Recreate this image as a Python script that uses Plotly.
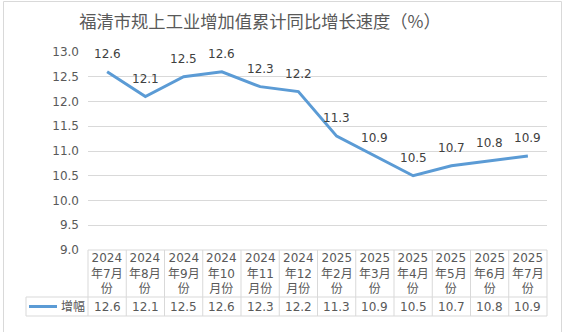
import plotly.graph_objects as go

# ---- data ----
categories = ["2024年7月份", "2024年8月份", "2024年9月份", "2024年10月份", "2024年11月份",
              "2024年12月份", "2025年2月份", "2025年3月份", "2025年4月份", "2025年5月份",
              "2025年6月份", "2025年7月份"]
tick_labels = ["2024<br>年7月<br>份", "2024<br>年8月<br>份", "2024<br>年9月<br>份",
               "2024<br>年10<br>月份", "2024<br>年11<br>月份", "2024<br>年12<br>月份",
               "2025<br>年2月<br>份", "2025<br>年3月<br>份", "2025<br>年4月<br>份",
               "2025<br>年5月<br>份", "2025<br>年6月<br>份", "2025<br>年7月<br>份"]
values = [12.6, 12.1, 12.5, 12.6, 12.3, 12.2, 11.3, 10.9, 10.5, 10.7, 10.8, 10.9]
series_name = "增幅"
y_ticks = [9.0, 9.5, 10.0, 10.5, 11.0, 11.5, 12.0, 12.5, 13.0]
title_text = "福清市规上工业增加值累计同比增长速度（%）"

# ---- layout constants (pixels) ----
W, H = 562, 332
PL, PR, PT, PB = 88, 547, 52, 250
LINE_COLOR = "#5B9BD5"
GRID = "#D9D9D9"
TXT = "#595959"
FONT = "DejaVu Sans, Noto Sans CJK SC, sans-serif"


def px2x(px):
    return (px - PL) / (PR - PL)


def py2y(py):
    return (PB - py) / (PB - PT)


n = len(categories)
xs = list(range(n))

fig = go.Figure()
fig.add_trace(go.Scatter(
    x=xs, y=values, mode="lines", name=series_name,
    line=dict(color=LINE_COLOR, width=3), hoverinfo="skip",
    customdata=categories,
))

annotations = []
# data labels
for i, v in zip(xs, values):
    annotations.append(dict(x=i, y=v, xref="x", yref="y", text=f"{v:.1f}",
                            showarrow=False, yshift=18,
                            font=dict(size=12, color="#404040", family=FONT)))
# table category row
row1_mid = (PB + 297) / 2
row2_mid = (297 + 316) / 2
for i, lab in zip(xs, tick_labels):
    annotations.append(dict(x=i, y=py2y(row1_mid), xref="x", yref="paper", text=lab,
                            showarrow=False, xanchor="center", yanchor="middle",
                            font=dict(size=12, color=TXT, family=FONT)))
for i, v in zip(xs, values):
    annotations.append(dict(x=i, y=py2y(row2_mid), xref="x", yref="paper", text=f"{v:.1f}",
                            showarrow=False, xanchor="center", yanchor="middle",
                            font=dict(size=12, color=TXT, family=FONT)))
# legend key text
annotations.append(dict(x=px2x(73), y=py2y(row2_mid), xref="paper", yref="paper", text=series_name,
                        showarrow=False, xanchor="center", yanchor="middle",
                        font=dict(size=12, color=TXT, family=FONT)))

shapes = []
# chart border
shapes.append(dict(type="rect", xref="paper", yref="paper",
                   x0=px2x(3.5), x1=px2x(561.5), y0=py2y(340), y1=py2y(1.5),
                   line=dict(color=GRID, width=1), fillcolor="rgba(0,0,0,0)", layer="below"))
# table horizontal lines
shapes.append(dict(type="line", xref="paper", yref="paper", x0=0, x1=1, y0=0, y1=0,
                   line=dict(color=GRID, width=1)))
for py in (297, 316):
    shapes.append(dict(type="line", xref="paper", yref="paper", x0=px2x(26), x1=1,
                       y0=py2y(py), y1=py2y(py), line=dict(color=GRID, width=1)))
# table vertical lines
for k in range(n + 1):
    shapes.append(dict(type="line", xref="paper", yref="paper", x0=k / n, x1=k / n,
                       y0=0, y1=py2y(316), line=dict(color=GRID, width=1)))
shapes.append(dict(type="line", xref="paper", yref="paper", x0=px2x(26), x1=px2x(26),
                   y0=py2y(297), y1=py2y(316), line=dict(color=GRID, width=1)))
# legend key line
shapes.append(dict(type="line", xref="paper", yref="paper", x0=px2x(29), x1=px2x(57),
                   y0=py2y(row2_mid), y1=py2y(row2_mid), line=dict(color=LINE_COLOR, width=3)))

fig.update_layout(
    width=W, height=H,
    margin=dict(l=PL, r=W - PR, t=PT, b=H - PB, pad=0),
    paper_bgcolor="white", plot_bgcolor="white",
    showlegend=False,
    font=dict(family=FONT, color=TXT, size=12),
    title=dict(text=title_text, x=260 / W, xref="container", xanchor="center",
               y=1 - 22 / H, yref="container", yanchor="middle",
               font=dict(size=17.3, color=TXT, family="Noto Sans CJK SC, DejaVu Sans")),
    xaxis=dict(range=[-0.5, n - 0.5], showgrid=False, zeroline=False, showline=False,
               showticklabels=False, ticks=""),
    yaxis=dict(range=[9, 13], tickvals=y_ticks, ticktext=[f"{t:.1f}" for t in y_ticks],
               showgrid=True, gridcolor=GRID, gridwidth=1, zeroline=False, showline=False,
               ticks="", ticklabelstandoff=8, tickfont=dict(size=12, color=TXT, family=FONT)),
    annotations=annotations,
    shapes=shapes,
)

fig.write_html("out.html", config={"displayModeBar": False})
